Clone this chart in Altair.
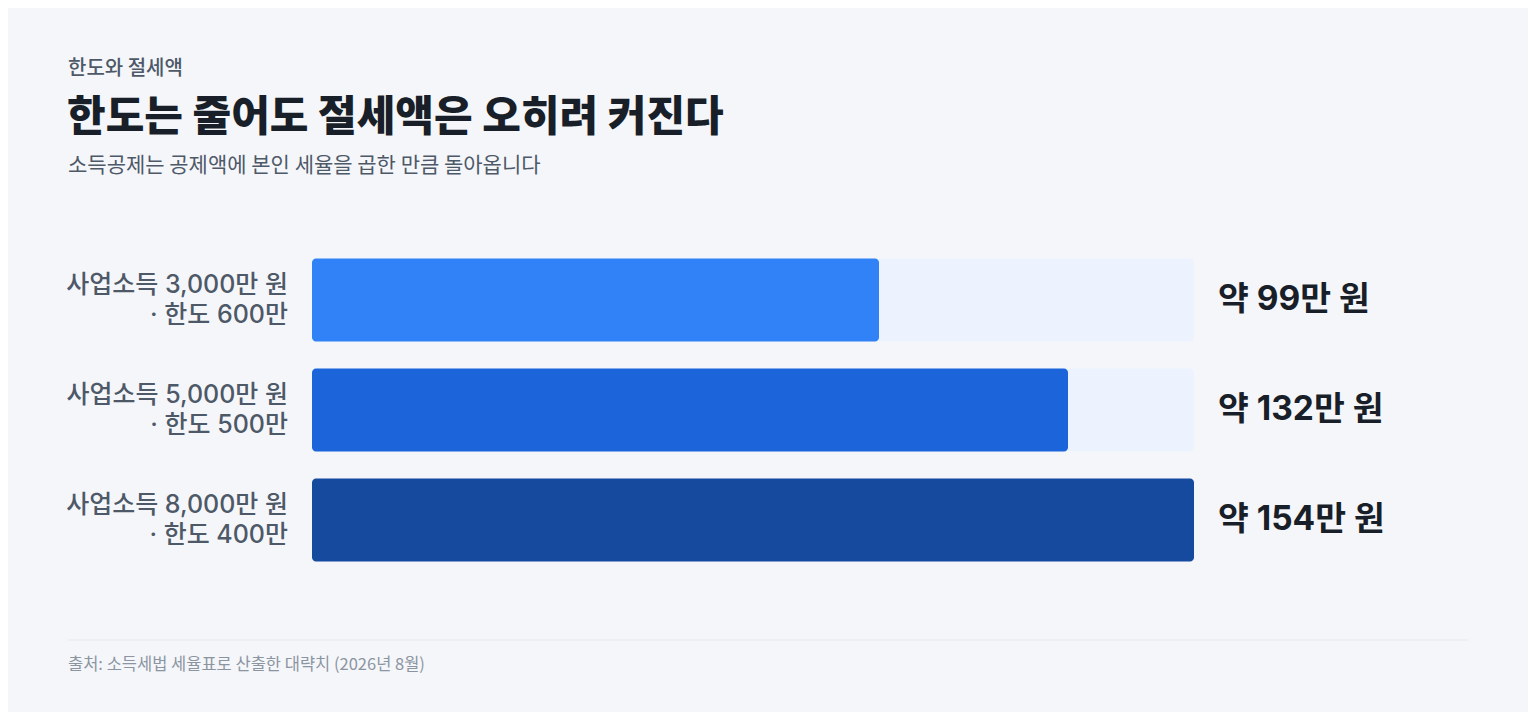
import altair as alt
import pandas as pd

categories = ["사업소득 3,000만 원\n· 한도 600만", "사업소득 5,000만 원\n· 한도 500만", "사업소득 8,000만 원\n· 한도 400만"]
values = [99, 132, 154]
value_labels = ["약 99만 원", "약 132만 원", "약 154만 원"]
bar_colors = ["#3182f6", "#1b64da", "#154a9e"]
track_max = 154

eyebrow = "한도와 절세액"
title = "한도는 줄어도 절세액은 오히려 커진다"
subtitle = "소득공제는 공제액에 본인 세율을 곱한 만큼 돌아옵니다"
source = "출처: 소득세법 세율표로 산출한 대략치 (2026년 8월)"

FONT = "Inter, 'Noto Sans CJK KR', sans-serif"
KFONT = "'Noto Sans CJK KR', sans-serif"

df = pd.DataFrame({
    "cat": categories,
    "value": values,
    "label": value_labels,
    "color": bar_colors,
    "track": [track_max] * len(values),
})

W, H = 1520, 704
OX, OY = 8, 8

xs = alt.Scale(domain=[0, track_max], range=[312 - OX, 1194 - OX])
ys = alt.Scale(domain=categories, range=[245 - OY, 575 - OY], paddingInner=0.2455, paddingOuter=0.12275)

base = alt.Chart(df)

track = base.mark_bar(color="#edf3fe", cornerRadius=4).encode(
    x=alt.X("zero:Q", scale=xs, axis=None),
    x2="track:Q",
    y=alt.Y("cat:N", scale=ys, axis=None, sort=categories),
).transform_calculate(zero="0")

bars = base.mark_bar(cornerRadius=4).encode(
    x=alt.X("zero:Q", scale=xs, axis=None),
    x2="value:Q",
    y=alt.Y("cat:N", scale=ys, axis=None, sort=categories),
    color=alt.Color("color:N", scale=None, legend=None),
).transform_calculate(zero="0")

cat_text = base.mark_text(
    align="right", baseline="middle", fontSize=25, font=FONT, color="#4e5968",
    lineBreak="\n", lineHeight=30, dy=-15, fontWeight=500,
).encode(
    x=alt.value(288 - OX),
    y=alt.Y("cat:N", scale=ys, axis=None, sort=categories),
    text="cat:N",
)

val_text = base.mark_text(
    align="left", baseline="middle", fontSize=33.5, font=FONT, color="#191f28", fontWeight="bold",
).encode(
    x=alt.value(1218 - OX),
    y=alt.Y("cat:N", scale=ys, axis=None, sort=categories),
    text="label:N",
)

def txt(s, x, y, size, color, weight="normal", font=FONT):
    return alt.Chart(pd.DataFrame({"t": [s]})).mark_text(
        align="left", baseline="middle", fontSize=size, color=color, fontWeight=weight, font=font,
    ).encode(x=alt.value(x - OX), y=alt.value(y - OY), text="t:N")

t_eyebrow = txt(eyebrow, 68, 69, 20, "#4e5968", 500, KFONT)
t_title = txt(title, 67, 118, 42, "#191f28", 800, KFONT)
t_sub = txt(subtitle, 68, 166, 21, "#4e5968", "normal", KFONT)
t_src = txt(source, 68, 665, 16.5, "#8b95a1", "normal", KFONT)

rule = alt.Chart(pd.DataFrame({"a": [0]})).mark_rule(color="#e5e8eb", strokeWidth=1).encode(
    x=alt.value(68 - OX), x2=alt.value(1468 - OX), y=alt.value(640 - OY)
)

chart = alt.layer(track, bars, cat_text, val_text, t_eyebrow, t_title, t_sub, rule, t_src).properties(
    width=W, height=H, padding=0, background="#f5f6fa",
    autosize=alt.AutoSizeParams(type="none"),
).configure_view(stroke=None)

chart.save("out.html", embed_options={"renderer": "svg", "actions": False})
